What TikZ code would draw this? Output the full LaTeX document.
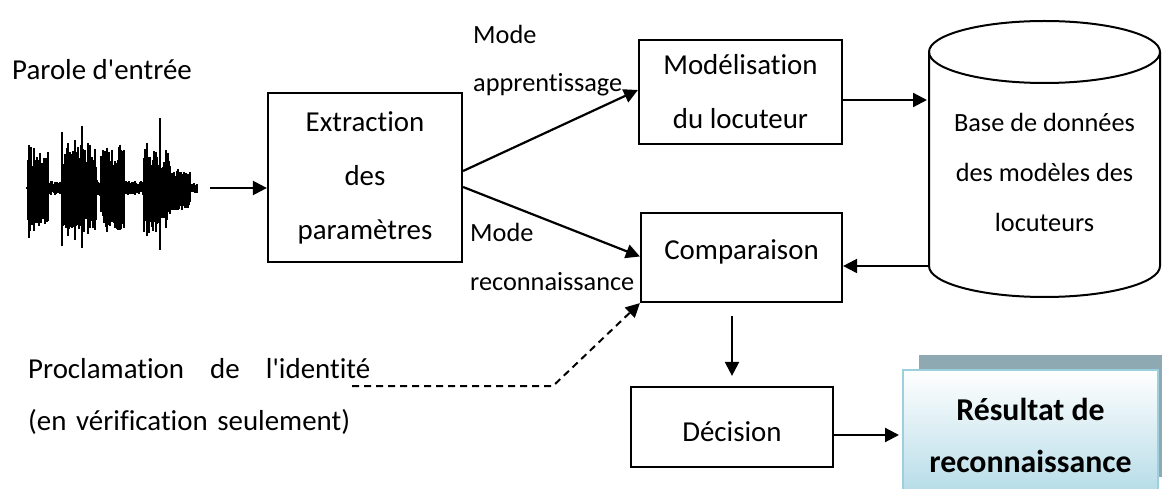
\documentclass[tikz,border=0pt]{standalone}
\usepackage{fontspec}
\setmainfont{Carlito}[Ligatures={TeXOff,NoCommon}]
\usetikzlibrary{arrows.meta,calc}
\definecolor{shadowc}{HTML}{8FA9B3}
\definecolor{resborder}{HTML}{9CD0DF}
\definecolor{resbot}{HTML}{B2DAE6}
\begin{document}
\begin{tikzpicture}[x=1pt,y=1pt,
  box/.style={draw, line width=2.2pt, inner sep=0pt},
  mtxt/.style={font=\fontsize{28.9}{54}\selectfont, align=center},
  stxt/.style={font=\fontsize{26.3}{48}\selectfont, align=left, anchor=west, inner sep=0pt},
  arr/.style={line width=2.2pt, -{Triangle[length=14pt,width=14pt]}},
  wave/.style={line width=1.3pt},
]
\useasboundingbox (0,0) rectangle (1163,-489);
\clip (0,0) rectangle (1163,-489);

% input speech
\node[mtxt, anchor=west, inner sep=0pt] (par) at (12,-70) {Parole d'entrée};
\pgfmathsetseed{12}
\foreach \a/\b/\h in {28/34/44, 35/48/38, 49/61/7, 62/80/42, 81/96/44, 97/100/8, 101/112/40, 113/124/44, 125/143/7, 144/156/46, 157/170/36, 171/190/22, 191/197/5}{
  \foreach \x in {\a,...,\b}{
    \pgfmathsetmacro\u{\h*(0.45+0.55*rnd)}
    \pgfmathsetmacro\d{\h*(0.5+0.5*rnd)}
    \draw[wave] (\x,{-188+\u}) -- (\x,{-188-\d});
  }
}
\foreach \x/\u/\d in {29/43/50, 62/56/58, 68/45/48, 75/48/52, 82/62/60, 88/45/46, 107/40/44, 120/40/42, 147/45/48, 160/70/62, 166/38/40}{
  \draw[wave] (\x,{-188+\u}) -- (\x,{-188-\d});
}
\draw[line width=2pt] (26,-188) -- (198,-188);
\coordinate (wv) at (210,-188);

% boxes
\node[box, mtxt, minimum width=194pt, minimum height=169pt] (ext) at (365,-177.5) {Extraction\\des\\paramètres};
\node[box, mtxt, minimum width=203pt, minimum height=104pt] (mod) at (740.5,-92) {Modélisation\\du locuteur};
\node[box, mtxt, minimum width=201pt, minimum height=89pt, text height=20.5pt, text depth=17pt] (comp) at (741.5,-257.5) {Comparaison};
\node[box, mtxt, minimum width=202pt, minimum height=80pt, text height=35pt, text depth=6pt] (dec) at (732,-427) {Décision};

% database cylinder
\draw[line width=2pt] (929,-52) -- (929,-266) arc[start angle=180, end angle=360, x radius=115.5pt, y radius=31pt] -- (1160,-52);
\draw[line width=2pt] (1044.5,-52) ellipse[x radius=115.5pt, y radius=31pt];
\node[font=\fontsize{26.3}{50}\selectfont, align=center] (db) at (1044.5,-172) {Base de données\\des modèles des\\locuteurs};
\coordinate (dbL) at (929,-172);

% result box
\fill[shadowc] (919,-355) rectangle (1162,-477);
\node[draw=resborder, line width=2pt, top color=white, bottom color=resbot, minimum width=255pt, minimum height=130pt, inner sep=0pt, align=center, font=\fontsize{31.8}{52}\selectfont\bfseries] (res) at (1030.5,-435) {Résultat de\\reconnaissance};

% mode labels
\node[stxt] (mA) at (473,-60.5) {Mode\\apprentissage};
\node[stxt, font=\fontsize{26.3}{49}\selectfont] (mR) at (470,-256.5) {Mode\\reconnaissance};

% identity claim
\node[font=\fontsize{28.9}{52}\selectfont, align=left, text width=342pt, anchor=west, inner sep=0pt] (proc) at (28,-396) {Proclamation\hfill de\hfill l'identité\\(en vérification seulement)};
\coordinate (pcs) at (352,-386);
\coordinate (pcc) at (553,-386);

% connectors
\draw[arr] (wv) -- (wv -| ext.west);
\draw[arr] ([yshift=6.5pt]ext.east) -- ([yshift=2pt]mod.west);
\draw[arr] ([yshift=-9.5pt]ext.east) -- ([yshift=1pt]comp.west);
\draw[arr, shorten >=2pt] ([yshift=-8pt]mod.east) -- ([yshift=-8pt]mod.east -| dbL);
\draw[arr] ([yshift=-8.5pt]comp.east -| dbL) -- ([yshift=-8.5pt]comp.east);
\draw[arr] ([yshift=-13pt]dec.north |- comp.south) -- ([yshift=10pt]dec.north);
\draw[arr, shorten >=3pt] ([yshift=-8pt]dec.east) -- ([yshift=-8pt]dec.east -| res.west);
\draw[arr, line width=2pt, dash pattern=on 7pt off 5pt] (pcs) -- (pcc) -- (comp.south west);
\end{tikzpicture}
\end{document}
